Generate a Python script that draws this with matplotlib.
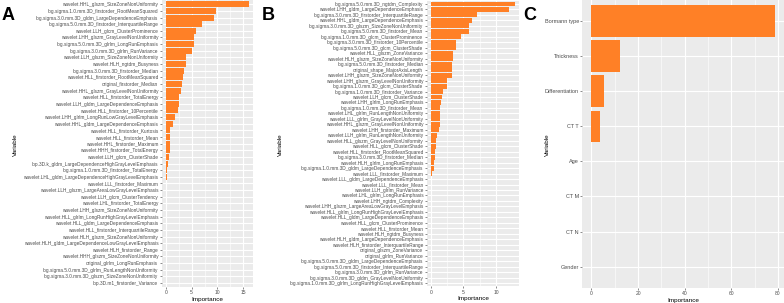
import matplotlib
matplotlib.use("Agg")
import matplotlib.pyplot as plt
import numpy as np

plt.rcParams['font.family'] = ['Liberation Sans', 'DejaVu Sans']

# panel A
vars_a = [
    "wavelet.HHL_glszm_SizeZoneNonUniformity",
    "log.sigma.1.0.mm.3D_firstorder_RootMeanSquared",
    "log.sigma.3.0.mm.3D_gldm_LargeDependenceEmphasis",
    "log.sigma.5.0.mm.3D_firstorder_InterquartileRange",
    "wavelet.LLH_glcm_ClusterProminence",
    "wavelet.LHH_glszm_GrayLevelNonUniformity",
    "log.sigma.5.0.mm.3D_glrlm_LongRunEmphasis",
    "log.sigma.3.0.mm.3D_glrlm_RunVariance",
    "wavelet.LLH_glszm_SizeZoneNonUniformity",
    "wavelet.HLH_ngtdm_Busyness",
    "log.sigma.3.0.mm.3D_firstorder_Median",
    "wavelet.HLL_firstorder_RootMeanSquared",
    "original_firstorder_Median",
    "wavelet.HHL_glszm_GrayLevelNonUniformity",
    "wavelet.HLL_firstorder_TotalEnergy",
    "wavelet.LLH_gldm_LargeDependenceEmphasis",
    "wavelet.HLL_firstorder_10Percentile",
    "wavelet.LHH_glrlm_LongRunLowGrayLevelEmphasis",
    "wavelet.HHL_gldm_LargeDependenceEmphasis",
    "wavelet.HLL_firstorder_Kurtosis",
    "wavelet.HLL_firstorder_Mean",
    "wavelet.HHL_firstorder_Maximum",
    "wavelet.HHH_firstorder_TotalEnergy",
    "wavelet.LLH_glcm_ClusterShade",
    "lbp.3D.k_gldm_LargeDependenceHighGrayLevelEmphasis",
    "log.sigma.1.0.mm.3D_firstorder_TotalEnergy",
    "wavelet.LHL_gldm_LargeDependenceHighGrayLevelEmphasis",
    "wavelet.LLL_firstorder_Maximum",
    "wavelet.LLH_glszm_LargeAreaLowGrayLevelEmphasis",
    "wavelet.LLH_glcm_ClusterTendency",
    "wavelet.LHL_firstorder_TotalEnergy",
    "wavelet.LHH_glszm_SizeZoneNonUniformity",
    "wavelet.HLL_glrlm_LongRunHighGrayLevelEmphasis",
    "wavelet.HLL_gldm_LargeDependenceEmphasis",
    "wavelet.HLL_firstorder_InterquartileRange",
    "wavelet.HLH_glszm_SizeZoneNonUniformity",
    "wavelet.HLH_gldm_LargeDependenceLowGrayLevelEmphasis",
    "wavelet.HLH_firstorder_Range",
    "wavelet.HHH_glszm_SizeZoneNonUniformity",
    "original_glrlm_LongRunEmphasis",
    "log.sigma.5.0.mm.3D_glrlm_RunLengthNonUniformity",
    "log.sigma.3.0.mm.3D_glszm_SizeZoneNonUniformity",
    "lbp.3D.m1_firstorder_Variance",
]
imp_a = [16.2, 9.7, 9.4, 7.05, 5.9, 5.45, 5.4, 5.1, 4.0, 4.0, 3.5, 3.3, 3.15, 3.0,
         2.6, 2.55, 2.3, 1.8, 1.3, 0.85, 0.85, 0.8, 0.8, 0.7, 0.45, 0.3, 0.15,
         0, 0, 0, 0, 0, 0, 0, 0, 0, 0, 0, 0, 0, 0, 0, 0]

# panel B
vars_b = [
    "log.sigma.5.0.mm.3D_ngtdm_Complexity",
    "wavelet.LHH_gldm_LargeDependenceEmphasis",
    "log.sigma.3.0.mm.3D_firstorder_InterquartileRange",
    "wavelet.HHL_gldm_LargeDependenceEmphasis",
    "log.sigma.3.0.mm.3D_glszm_SizeZoneNonUniformity",
    "log.sigma.5.0.mm.3D_firstorder_Mean",
    "log.sigma.1.0.mm.3D_glcm_ClusterProminence",
    "log.sigma.3.0.mm.3D_firstorder_10Percentile",
    "log.sigma.5.0.mm.3D_glcm_ClusterShade",
    "wavelet.HLL_glszm_ZoneVariance",
    "wavelet.HLH_glszm_SizeZoneNonUniformity",
    "log.sigma.5.0.mm.3D_firstorder_Median",
    "original_shape_MajorAxisLength",
    "wavelet.LHH_glszm_SizeZoneNonUniformity",
    "wavelet.LHH_glszm_GrayLevelNonUniformity",
    "log.sigma.1.0.mm.3D_glcm_ClusterShade",
    "log.sigma.1.0.mm.3D_firstorder_Variance",
    "wavelet.LLH_glcm_ClusterShade",
    "wavelet.LHH_glrlm_LongRunEmphasis",
    "log.sigma.1.0.mm.3D_firstorder_Mean",
    "wavelet.LHL_glrlm_RunLengthNonUniformity",
    "wavelet.LLL_glrlm_GrayLevelNonUniformity",
    "wavelet.HHL_glszm_GrayLevelNonUniformity",
    "wavelet.LHH_firstorder_Maximum",
    "wavelet.LLH_glrlm_RunLengthNonUniformity",
    "wavelet.HLL_glszm_GrayLevelNonUniformity",
    "wavelet.HLL_glcm_ClusterShade",
    "wavelet.HLL_firstorder_RootMeanSquared",
    "log.sigma.3.0.mm.3D_firstorder_Median",
    "wavelet.HLH_glrlm_LongRunEmphasis",
    "log.sigma.1.0.mm.3D_gldm_LargeDependenceEmphasis",
    "wavelet.LLL_firstorder_Maximum",
    "wavelet.LLL_gldm_LargeDependenceEmphasis",
    "wavelet.LLL_firstorder_Mean",
    "wavelet.LLH_glrlm_RunVariance",
    "wavelet.LHL_glrlm_LongRunEmphasis",
    "wavelet.LHH_ngtdm_Complexity",
    "wavelet.LHH_glszm_LargeAreaLowGrayLevelEmphasis",
    "wavelet.HLL_glrlm_LongRunHighGrayLevelEmphasis",
    "wavelet.HLL_gldm_LargeDependenceEmphasis",
    "wavelet.HLL_glcm_ClusterProminence",
    "wavelet.HLL_firstorder_Mean",
    "wavelet.HLH_ngtdm_Busyness",
    "wavelet.HLH_gldm_LargeDependenceEmphasis",
    "wavelet.HLH_firstorder_InterquartileRange",
    "original_glszm_ZoneVariance",
    "original_glrlm_RunVariance",
    "log.sigma.5.0.mm.3D_gldm_LargeDependenceEmphasis",
    "log.sigma.5.0.mm.3D_firstorder_InterquartileRange",
    "log.sigma.3.0.mm.3D_glrlm_RunVariance",
    "log.sigma.3.0.mm.3D_gldm_GrayLevelNonUniformity",
    "log.sigma.1.0.mm.3D_glrlm_LongRunHighGrayLevelEmphasis",
]
imp_b = [12.9, 11.95, 7.08, 6.36, 5.9, 5.8, 4.56, 3.9, 3.85, 3.38, 3.33, 3.23, 3.18, 3.18,
         2.4, 2.4, 1.9, 1.64, 1.5, 1.44, 1.44, 1.44, 1.33, 1.18, 0.92, 0.72, 0.72,
         0.67, 0.62, 0.5, 0.5, 0.1, 0, 0, 0, 0, 0, 0, 0, 0, 0, 0, 0, 0, 0, 0, 0, 0, 0, 0, 0, 0]

# panel C
vars_c = ["Bormann type", "Thickness", "Differentiation", "CT T", "Age", "CT M", "CT N", "Gender"]
imp_c = [78.7, 12.1, 5.4, 3.86, 0, 0, 0, 0]

ticks_a = [0, 5, 10, 15]
ticks_b = [0, 5, 10]
ticks_c = [0, 20, 40, 60, 80]

W, H = 784, 303
fig = plt.figure(figsize=(W / 100, H / 100), dpi=100)
bar_col = "#ff8026"


def panel(rect_px, names, vals, ticks, ylab_size, tick_size, ylab_x, letter, letter_x):
    l, r, t, b = rect_px
    ax = fig.add_axes([l / W, 1 - b / H, (r - l) / W, (b - t) / H])
    n = len(names)
    y = np.arange(n)
    ax.set_facecolor("#ebebeb")
    ax.barh(y, vals, height=0.9, color=bar_col, zorder=3)
    vmax = max(vals)
    ax.set_xlim(-0.05 * vmax, 1.05 * vmax)
    ax.set_ylim(n - 0.4, -0.6)
    ax.set_yticks(y)
    ax.set_yticklabels(names, fontsize=ylab_size, color="#4d4d4d")
    ax.set_xticks(ticks)
    ax.set_xticklabels([str(v) for v in ticks], fontsize=tick_size, color="#4d4d4d")
    minor = [(ticks[i] + ticks[i + 1]) / 2 for i in range(len(ticks) - 1)]
    ax.set_xticks(minor, minor=True)
    ax.grid(True, which="major", color="white", linewidth=0.8, zorder=0)
    ax.grid(True, which="minor", axis="x", color="white", linewidth=0.4, zorder=0)
    ax.tick_params(axis="both", which="major", length=1.5, width=0.4, color="#333333", pad=1)
    ax.tick_params(axis="x", which="minor", length=0)
    for s in ax.spines.values():
        s.set_visible(False)
    ax.set_xlabel("Importance", fontsize=4.6, labelpad=1)
    fig.text(ylab_x / W, 1 - 145 / H, "Variable", rotation=90, fontsize=4.6,
             ha="center", va="center")
    fig.text(letter_x / W, 1 - 15 / H, letter, fontsize=13, fontweight="bold",
             ha="left", va="center")
    return ax


panel((161.7, 253.5, 0.3, 287), vars_a, imp_a, ticks_a, 3.4, 3.6, 15, "A", 2)
panel((426.7, 519, 0.7, 286.3), vars_b, imp_b, ticks_b, 3.45, 3.6, 280, "B", 262)
panel((582.3, 784, 0, 287.7), vars_c, imp_c, ticks_c, 4.0, 3.6, 547, "C", 523)

fig.savefig("out.png", dpi=100)
